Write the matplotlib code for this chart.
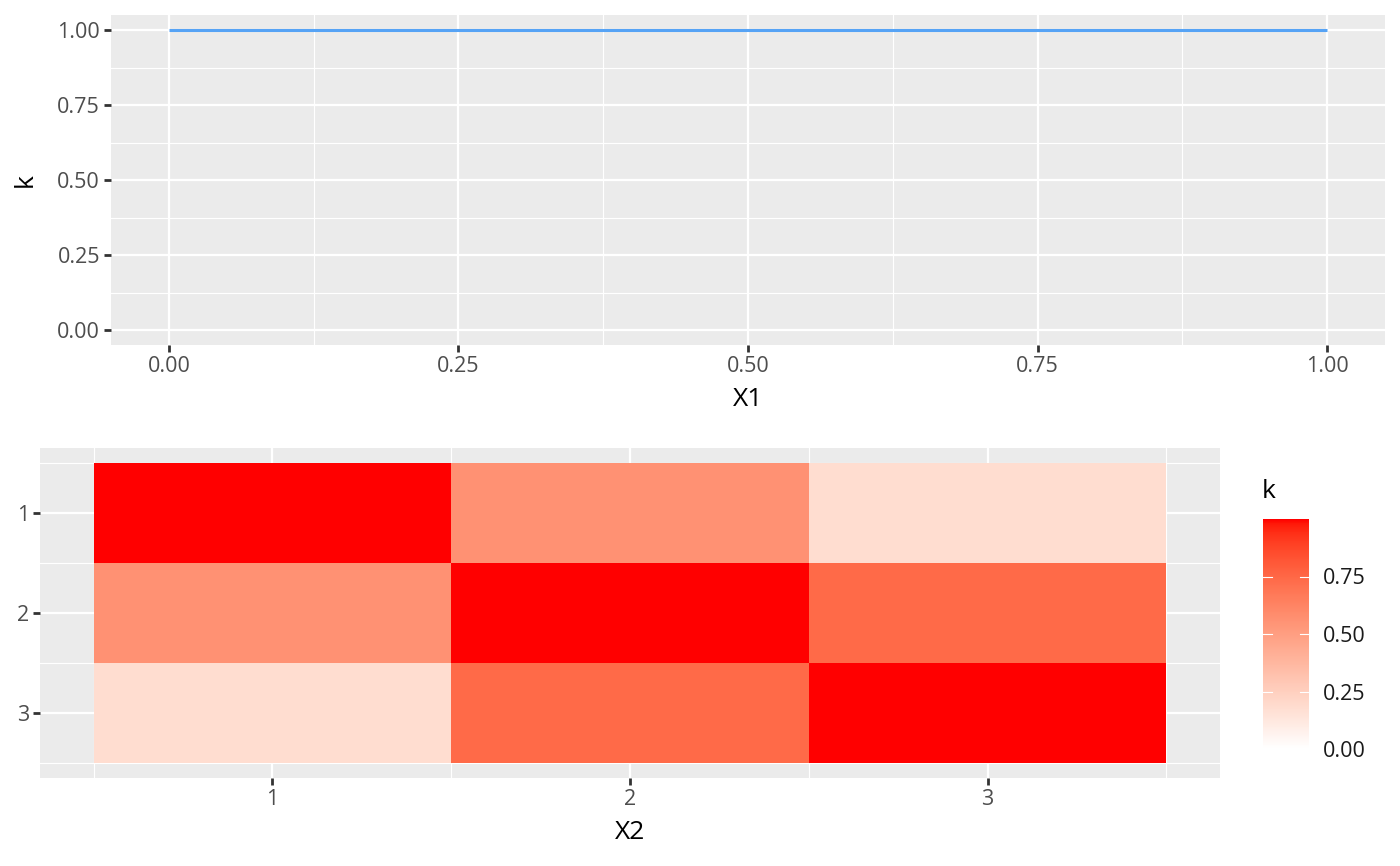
import numpy as np
import matplotlib
matplotlib.use("Agg")
import matplotlib.pyplot as plt
from matplotlib.colors import ListedColormap, Normalize
from matplotlib.ticker import MultipleLocator, FixedLocator

plt.rcParams['font.family'] = ['Open Sans', 'DejaVu Sans']

# top panel: k along X1
x1 = [0.0, 1.0]
k_line = [1.0, 1.0]

# bottom panel: kernel matrix
x2_labels = [1, 2, 3]
k_matrix = [
    [1.00, 0.56, 0.18],
    [0.56, 1.00, 0.74],
    [0.18, 0.74, 1.00],
]

PANEL = "#EBEBEB"
TICK_TXT = "#4D4D4D"
TICK_COL = "#333333"
W, H = 1400, 866
TICK_FS = 15.5
TITLE_FS = 19


def lab_gradient(n=256):
    # ggplot style white -> red, interpolated in CIELAB
    def srgb_to_lab(c):
        c = np.asarray(c, float)
        lin = np.where(c <= 0.04045, c / 12.92, ((c + 0.055) / 1.055) ** 2.4)
        M = np.array([[0.4124, 0.3576, 0.1805],
                      [0.2126, 0.7152, 0.0722],
                      [0.0193, 0.1192, 0.9505]])
        xyz = M @ lin / np.array([0.95047, 1.0, 1.08883])
        f = np.where(xyz > 0.008856, np.cbrt(xyz), 7.787 * xyz + 16 / 116)
        return np.array([116 * f[1] - 16, 500 * (f[0] - f[1]), 200 * (f[1] - f[2])])

    def lab_to_srgb(lab):
        L, a, b = lab
        fy = (L + 16) / 116
        fx = fy + a / 500
        fz = fy - b / 200
        f = np.array([fx, fy, fz])
        xyz = np.where(f ** 3 > 0.008856, f ** 3, (f - 16 / 116) / 7.787)
        xyz = xyz * np.array([0.95047, 1.0, 1.08883])
        Mi = np.array([[3.2406, -1.5372, -0.4986],
                       [-0.9689, 1.8758, 0.0415],
                       [0.0557, -0.2040, 1.0570]])
        lin = Mi @ xyz
        lin = np.clip(lin, 0, 1)
        c = np.where(lin <= 0.0031308, 12.92 * lin, 1.055 * lin ** (1 / 2.4) - 0.055)
        return np.clip(c, 0, 1)

    lo = srgb_to_lab([1, 1, 1])
    hi = srgb_to_lab([1, 0, 0])
    cols = [lab_to_srgb(lo + (hi - lo) * t) for t in np.linspace(0, 1, n)]
    return ListedColormap(cols)


def style(ax):
    ax.set_facecolor(PANEL)
    for s in ax.spines.values():
        s.set_visible(False)
    ax.grid(which="major", color="white", lw=1.6)
    ax.grid(which="minor", color="white", lw=0.8)
    ax.set_axisbelow(True)
    ax.tick_params(which="major", length=5, width=2, color=TICK_COL,
                   labelcolor=TICK_TXT, labelsize=TICK_FS, pad=3)
    ax.tick_params(which="minor", length=0)


fig = plt.figure(figsize=(W / 100, H / 100), dpi=100)

# --- top panel ---
ax1 = fig.add_axes([111 / W, 1 - 345 / H, (1385 - 111) / W, (345 - 15) / H])
style(ax1)
ax1.plot(x1, k_line, color="#56A3F5", lw=2.2, solid_capstyle="butt")
ax1.set_xlim(-0.05, 1.05)
ax1.set_ylim(-0.05, 1.05)
ax1.xaxis.set_major_locator(MultipleLocator(0.25))
ax1.xaxis.set_minor_locator(MultipleLocator(0.125))
ax1.yaxis.set_major_locator(MultipleLocator(0.25))
ax1.yaxis.set_minor_locator(MultipleLocator(0.125))
ax1.xaxis.set_major_formatter(lambda v, p: f"{v:.2f}")
ax1.yaxis.set_major_formatter(lambda v, p: f"{v:.2f}")
ax1.set_xlabel("X1", fontsize=TITLE_FS, labelpad=7)
ax1.set_ylabel("k", fontsize=TITLE_FS, labelpad=14)

# --- bottom panel ---
cmap = lab_gradient()
norm = Normalize(0, 1)
ax2 = fig.add_axes([40 / W, 1 - 778 / H, (1220 - 40) / W, (778 - 448) / H])
style(ax2)
n = len(x2_labels)
ax2.pcolormesh(np.arange(n + 1) + 0.5, np.arange(n + 1) + 0.5,
               np.array(k_matrix), cmap=cmap, norm=norm, zorder=2)
ax2.set_xlim(0.35, 3.65)
ax2.set_ylim(3.65, 0.35)
ax2.xaxis.set_major_locator(FixedLocator(x2_labels))
ax2.yaxis.set_major_locator(FixedLocator(x2_labels))
ax2.xaxis.set_minor_locator(FixedLocator([0.5, 1.5, 2.5, 3.5]))
ax2.yaxis.set_minor_locator(FixedLocator([0.5, 1.5, 2.5, 3.5]))
ax2.set_xticklabels([str(v) for v in x2_labels])
ax2.set_yticklabels([str(v) for v in x2_labels])
ax2.set_xlabel("X2", fontsize=TITLE_FS, labelpad=7)

# --- colorbar ---
cax = fig.add_axes([1263 / W, 1 - 749 / H, (1309 - 1263) / W, (749 - 519) / H])
cb = fig.colorbar(plt.cm.ScalarMappable(norm=norm, cmap=cmap), cax=cax)
cb.outline.set_visible(False)
cb.set_ticks([0, 0.25, 0.5, 0.75])
cb.set_ticklabels(["0.00", "0.25", "0.50", "0.75"])
cax.tick_params(length=0, labelsize=TICK_FS, labelcolor="#1A1A1A", pad=10)
for t in [0.25, 0.5, 0.75]:
    cax.plot([0, 0.2], [t, t], color="white", lw=0.8, transform=cax.get_yaxis_transform())
    cax.plot([0.8, 1], [t, t], color="white", lw=0.8, transform=cax.get_yaxis_transform())
fig.text(1262 / W, 1 - 492 / H, "k", fontsize=TITLE_FS, va="center", ha="left")

fig.savefig("out.png", dpi=100)
